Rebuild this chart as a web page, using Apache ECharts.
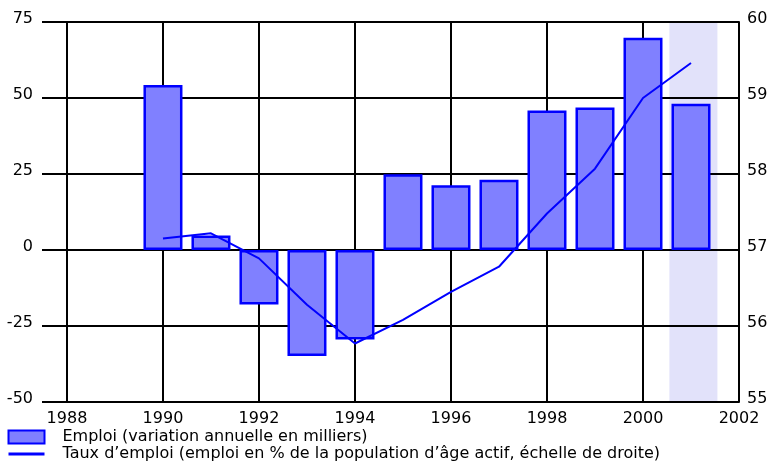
<!DOCTYPE html>
<html>
<head>
<meta charset="utf-8">
<script src="https://cdn.jsdelivr.net/npm/echarts@6/dist/echarts.min.js"></script>
<style>
  html, body { margin: 0; padding: 0; background: #ffffff; }
  #chart { width: 771px; height: 464px; }
</style>
</head>
<body>
<div id="chart"></div>
<script>
// Years shown on the time axis and the annual data
const yearTicks = [1988, 1990, 1992, 1994, 1996, 1998, 2000, 2002];
const years = [1990, 1991, 1992, 1993, 1994, 1995, 1996, 1997, 1998, 1999, 2000, 2001];
// Employment change, thousands (left scale)
const emploi = [54.3, 4.8, -17.9, -34.9, -29.4, 24.9, 21.3, 23.1, 45.9, 46.9, 69.8, 48.1];
// Employment rate, % of working-age population (right scale)
const tauxEmploi = [57.15, 57.22, 56.89, 56.28, 55.77, 56.08, 56.45, 56.78, 57.48, 58.07, 59.0, 59.46];
// Projected year highlighted in the background
const shadedYears = [2000.55, 2001.55];

const leftTicks = [-50, -25, 0, 25, 50, 75];
const rightTicks = [55, 56, 57, 58, 59, 60];

const nameEmploi = 'Emploi (variation annuelle en milliers)';
const nameTaux = 'Taux d\u2019emploi (emploi en % de la population d\u2019\u00e2ge actif, \u00e9chelle de droite)';

const FONT = 'DejaVu Sans';
const black = '#000000';
const blue = '#0000ff';

// value labels sit just above their grid line
const yLabel = { color: black, fontFamily: FONT, fontSize: 16, verticalAlign: 'bottom', lineHeight: 6 };

const chart = echarts.init(document.getElementById('chart'), null, { renderer: 'canvas' });

chart.setOption({
  animation: false,
  backgroundColor: '#ffffff',
  textStyle: { fontFamily: FONT },
  grid: { left: 42, right: 32, top: 22, bottom: 62, containLabel: false },
  legend: {
    orient: 'vertical',
    left: 7,
    top: 429,
    itemWidth: 36,
    itemHeight: 13,
    itemGap: 1,
    padding: 0,
    textStyle: { fontFamily: FONT, fontSize: 16, color: black, padding: [0, 0, 0, 13], lineHeight: 15 },
    data: [
      { name: nameEmploi, icon: 'rect' },
      { name: nameTaux, itemStyle: { color: 'rgba(0,0,0,0)', borderWidth: 0 }, lineStyle: { width: 3 } }
    ]
  },
  xAxis: {
    type: 'value',
    min: 1987.48,
    max: 2002,
    z: 1.5,
    axisLine: { show: false },
    axisTick: {
      show: true, length: 8, inside: false,
      customValues: yearTicks,
      lineStyle: { color: black, width: 2 }
    },
    axisLabel: {
      customValues: yearTicks,
      margin: 9,
      color: black, fontFamily: FONT, fontSize: 16,
      formatter: v => String(v)
    },
    splitLine: { show: true, lineStyle: { color: black, width: 2 } }
  },
  yAxis: [
    {
      type: 'value',
      min: leftTicks[0],
      max: leftTicks[leftTicks.length - 1],
      interval: 25,
      z: 1.5,
      axisLine: { show: false },
      axisTick: { show: false },
      axisLabel: Object.assign({ margin: 9 }, yLabel),
      splitLine: { show: true, lineStyle: { color: black, width: 2 } }
    },
    {
      type: 'value',
      position: 'right',
      min: rightTicks[0],
      max: rightTicks[rightTicks.length - 1],
      interval: 1,
      z: 1.5,
      axisLine: { show: true, lineStyle: { color: black, width: 2 } },
      axisTick: { show: false },
      axisLabel: Object.assign({ margin: 8 }, yLabel),
      splitLine: { show: false }
    }
  ],
  series: [
    {
      name: 'zone',
      type: 'line',
      z: 0.5,
      data: [],
      silent: true,
      markArea: {
        silent: true,
        itemStyle: { color: '#e2e2fa' },
        data: [[{ xAxis: shadedYears[0] }, { xAxis: shadedYears[1] }]]
      }
    },
    {
      name: nameEmploi,
      type: 'bar',
      z: 3,
      barWidth: 39,
      data: years.map((y, i) => [y, emploi[i]]),
      itemStyle: { color: '#8080ff', borderColor: blue, borderWidth: 2.5 }
    },
    {
      name: nameTaux,
      type: 'line',
      yAxisIndex: 1,
      z: 4,
      symbol: 'none',
      data: years.map((y, i) => [y, tauxEmploi[i]]),
      lineStyle: { color: blue, width: 2 },
      itemStyle: { color: blue }
    }
  ]
});
</script>
</body>
</html>
